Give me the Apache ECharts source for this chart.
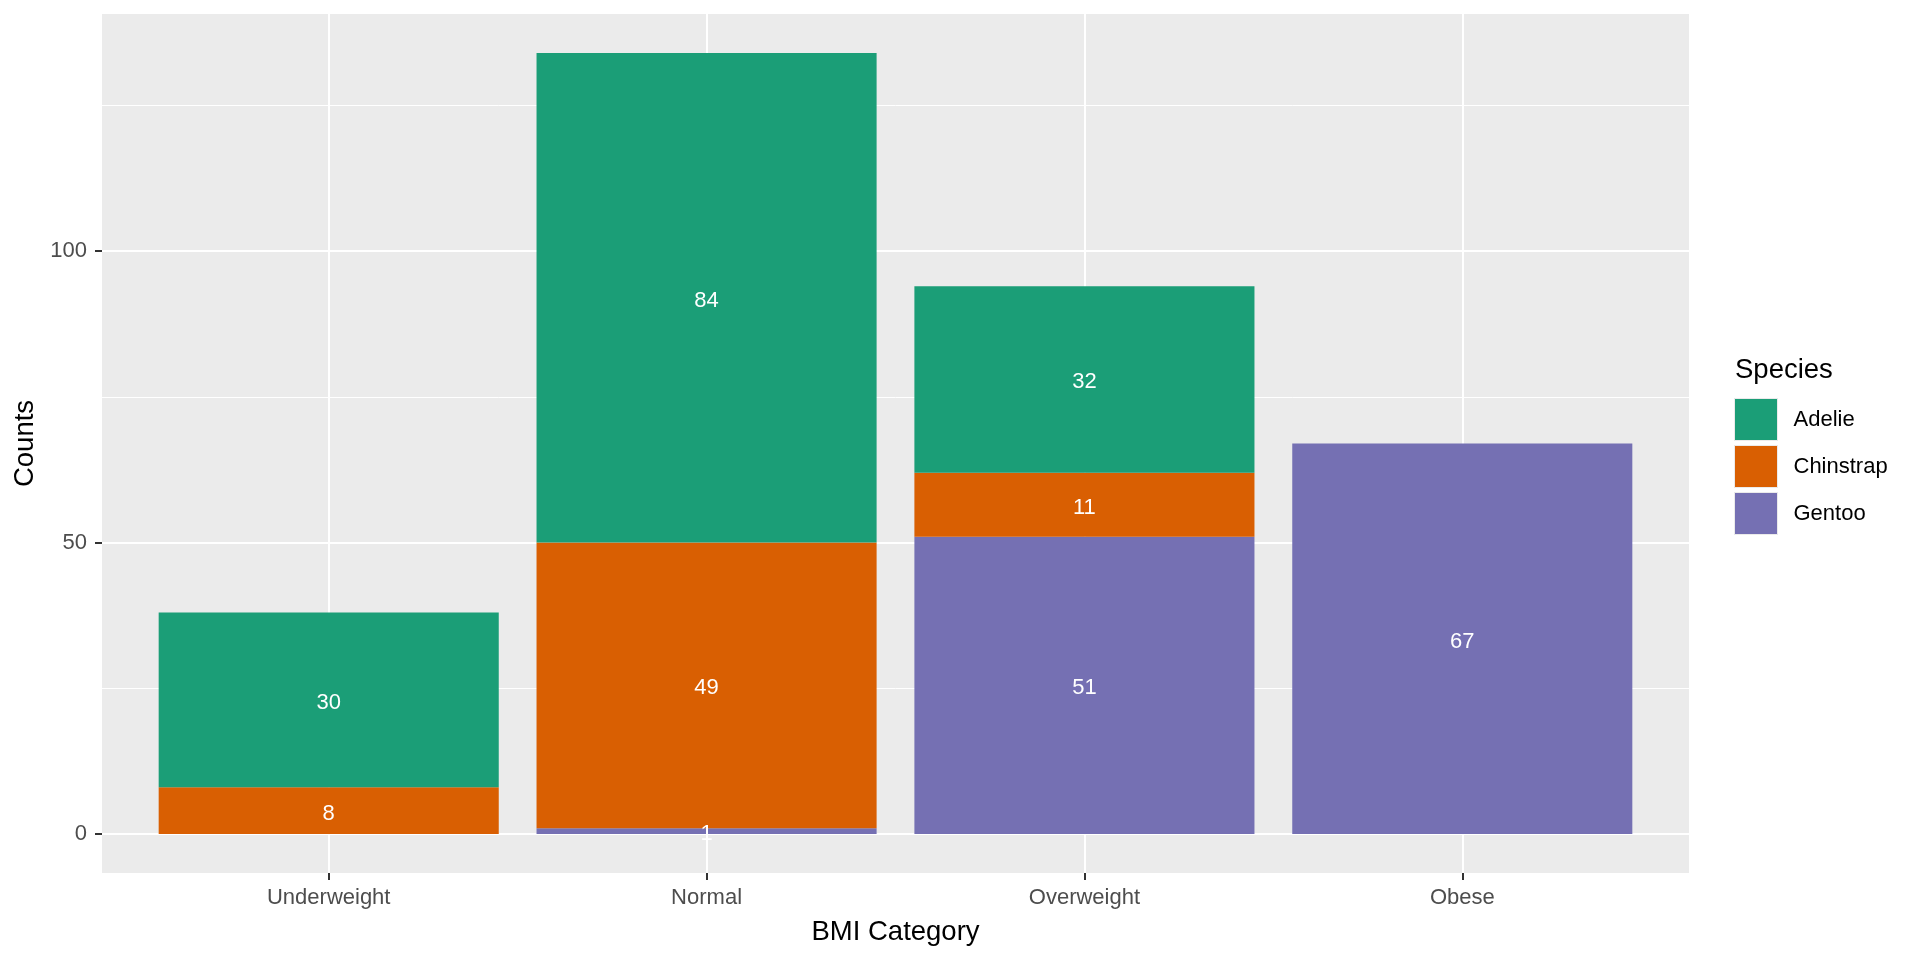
<!DOCTYPE html>
<html>
<head>
<meta charset="utf-8">
<script src="https://cdn.jsdelivr.net/npm/echarts@6/dist/echarts.min.js"></script>
<style>
html,body{margin:0;padding:0;background:#fff;}
#chart{width:1920px;height:960px;}
</style>
</head>
<body>
<div id="chart"></div>
<script>
const categories = ['Underweight', 'Normal', 'Overweight', 'Obese'];
const species = ['Adelie', 'Chinstrap', 'Gentoo'];
const adelie = [30, 84, 32, null];
const chinstrap = [8, 49, 11, null];
const gentoo = [null, 1, 51, 67];
const yMajorTicks = [0, 50, 100];
const yMinorTicks = [25, 75, 125];

const colors = { Adelie: '#1B9E77', Chinstrap: '#D95F02', Gentoo: '#7570B3' };
const FONT = '"Liberation Sans", Arial, sans-serif';
const catPos = categories.map((c, i) => i + 1);

// panel geometry (ggplot-like discrete expansion of 0.6 on each side)
const PANEL = { left: 102, top: 14, width: 1587, height: 859 };
const unit = PANEL.width / 4.2;
const Y_MIN = -6.7, Y_MAX = 140.7;

function mk(name, vals) {
  return {
    name: name,
    type: 'bar',
    stack: 'total',
    xAxisIndex: 1,
    yAxisIndex: 2,
    barWidth: '90%',
    itemStyle: { color: colors[name] },
    label: {
      show: true,
      position: 'inside',
      offset: [0, 3],
      color: '#ffffff',
      fontSize: 22,
      fontFamily: FONT,
      formatter: p => (p.value == null ? '' : String(p.value))
    },
    emphasis: { disabled: true },
    data: vals
  };
}

const chart = echarts.init(document.getElementById('chart'), null, { renderer: 'canvas' });
chart.setOption({
  animation: false,
  backgroundColor: '#ffffff',
  textStyle: { fontFamily: FONT },
  title: {
    text: 'Species',
    left: 1735,
    top: 356,
    padding: 0,
    textStyle: { fontSize: 27.5, fontWeight: 'normal', color: '#000000', fontFamily: FONT }
  },
  legend: {
    data: species,
    orient: 'vertical',
    left: 1734,
    top: 398,
    padding: 0,
    itemWidth: 43,
    itemHeight: 42,
    itemGap: 4,
    icon: 'rect',
    itemStyle: { borderColor: '#EBEBEB', borderWidth: 1 },
    textStyle: { fontSize: 22, color: '#000000', fontFamily: FONT, padding: [0, 0, 0, 11] },
    selectedMode: false
  },
  grid: [{
    left: PANEL.left,
    top: PANEL.top,
    width: PANEL.width,
    height: PANEL.height,
    show: true,
    backgroundColor: '#EBEBEB',
    borderWidth: 0
  }, {
    left: PANEL.left + 0.1 * unit,
    top: PANEL.top,
    width: 4 * unit,
    height: PANEL.height,
    show: false
  }],
  xAxis: [{
    type: 'value',
    gridIndex: 0,
    min: 0.4,
    max: 4.6,
    name: 'BMI Category',
    nameLocation: 'middle',
    nameGap: 45,
    nameTextStyle: { fontSize: 27.5, color: '#000000', fontFamily: FONT },
    axisLine: { show: false, onZero: false },
    axisTick: { show: true, length: 7, customValues: catPos, lineStyle: { color: '#333333', width: 2 } },
    axisLabel: {
      show: true,
      customValues: catPos,
      margin: 14,
      fontSize: 22,
      color: '#4D4D4D',
      fontFamily: FONT,
      formatter: v => categories[Math.round(v) - 1] || ''
    },
    splitLine: { show: true, lineStyle: { color: '#ffffff', width: 2 } }
  }, {
    type: 'category',
    gridIndex: 1,
    data: categories,
    boundaryGap: true,
    show: false,
    axisLine: { onZero: false }
  }],
  yAxis: [{
    type: 'value',
    gridIndex: 0,
    min: Y_MIN,
    max: Y_MAX,
    name: 'Counts',
    nameLocation: 'middle',
    nameGap: 63,
    nameRotate: 90,
    nameTextStyle: { fontSize: 27.5, color: '#000000', fontFamily: FONT },
    axisLine: { show: false, onZero: false },
    axisTick: { show: true, length: 7, customValues: yMajorTicks, lineStyle: { color: '#333333', width: 2 } },
    axisLabel: {
      show: true,
      customValues: yMajorTicks,
      margin: 15,
      fontSize: 22,
      color: '#4D4D4D',
      fontFamily: FONT
    },
    splitLine: { show: true, lineStyle: { color: '#ffffff', width: 2 } }
  }, {
    type: 'value',
    gridIndex: 0,
    min: Y_MIN,
    max: Y_MAX,
    position: 'left',
    axisLine: { show: false, onZero: false },
    axisTick: { show: false, customValues: yMinorTicks },
    axisLabel: { show: false, customValues: yMinorTicks },
    splitLine: { show: true, lineStyle: { color: '#ffffff', width: 1 } }
  }, {
    type: 'value',
    gridIndex: 1,
    min: Y_MIN,
    max: Y_MAX,
    show: false,
    splitLine: { show: false },
    axisLine: { onZero: false }
  }],
  series: [
    mk('Gentoo', gentoo),
    mk('Chinstrap', chinstrap),
    mk('Adelie', adelie)
  ]
});
</script>
</body>
</html>
